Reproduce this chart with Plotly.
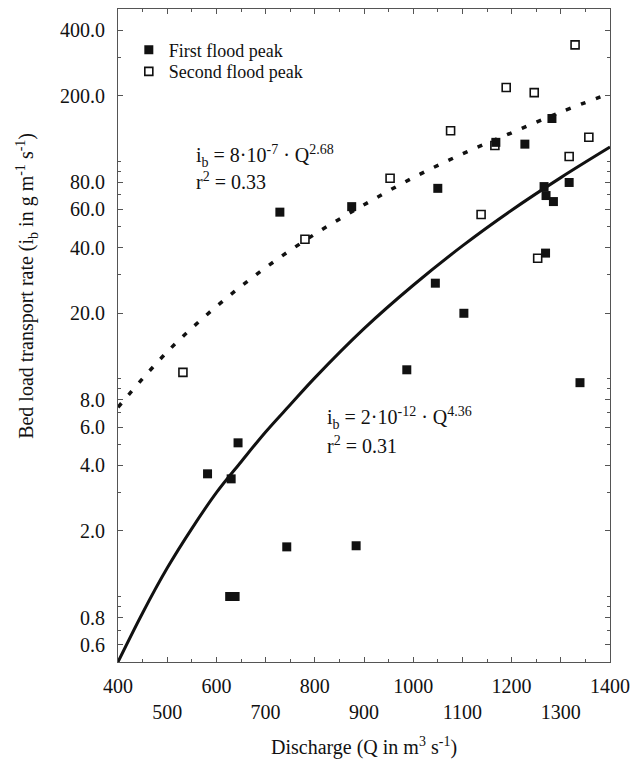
import plotly.graph_objects as go

# ---- data ----
first_q = [582, 630, 644, 743, 884, 627, 638, 729, 875, 987, 1045, 1103, 1269, 1339,
           1050, 1168, 1227, 1282, 1266, 1270, 1285, 1317]
first_ib = [3.66, 3.47, 5.08, 1.69, 1.71, 1.0, 1.0, 58.3, 61.8, 11.0, 27.5, 20.0, 37.8, 9.6,
            75.0, 122.0, 119.7, 157.0, 76.4, 69.5, 65.2, 79.8]

second_q = [532, 780, 953, 1076, 1166, 1189, 1246, 1329, 1357, 1317, 1138, 1253]
second_ib = [10.7, 43.8, 83.5, 138.0, 118.0, 218.0, 206.5, 342.0, 128.8, 105.0, 56.9, 35.8]

# regression curves, points
fit1_q = [400, 450, 500, 550, 600, 650, 700, 750, 800, 900, 1000, 1100, 1200, 1300, 1400]
fit1_ib = [0.5, 0.84, 1.35, 2.05, 3.0, 4.15, 5.7, 7.6, 10.1, 17.0, 26.9, 40.8, 59.5, 84.0, 116.0]

fit2_q = [400, 500, 600, 700, 800, 900, 1000, 1100, 1200, 1300, 1400]
fit2_ib = [7.4, 13.3, 21.5, 32.4, 46.2, 63.0, 84.0, 108.0, 135.0, 168.0, 205.0]

x_ticks = [400, 500, 600, 700, 800, 900, 1000, 1100, 1200, 1300, 1400]
x_ticktext = ["400", "<br>500", "600", "<br>700", "800", "<br>900", "1000", "<br>1100",
              "1200", "<br>1300", "1400"]
x_minor = [450, 550, 650, 750, 850, 950, 1050, 1150, 1250, 1350]

y_ticks = [0.6, 0.8, 2, 4, 6, 8, 20, 40, 60, 80, 200, 400]
y_ticktext = ["0.6", "0.8", "2.0", "4.0", "6.0", "8.0", "20.0", "40.0", "60.0", "80.0",
              "200.0", "400.0"]
y_minor = [0.5, 0.7, 0.9, 1, 3, 5, 7, 9, 10, 30, 50, 70, 90, 100, 300, 500]

FONT = "Liberation Serif, Times New Roman, serif"

fig = go.Figure()
fig.add_trace(go.Scatter(x=fit2_q, y=fit2_ib, mode="lines", line_shape="spline",
                         line=dict(color="#111", width=3.5, dash="5px,11px"),
                         showlegend=False, hoverinfo="skip"))
fig.add_trace(go.Scatter(x=fit1_q, y=fit1_ib, mode="lines", line_shape="spline",
                         line=dict(color="#111", width=3),
                         showlegend=False, hoverinfo="skip"))
fig.add_trace(go.Scatter(x=second_q, y=second_ib, mode="markers", name="Second flood peak",
                         marker=dict(symbol="square", size=8, color="white",
                                     line=dict(color="#111", width=1.6)),
                         legend="legend2"))
fig.add_trace(go.Scatter(x=first_q, y=first_ib, mode="markers", name="First flood peak",
                         marker=dict(symbol="square", size=9, color="#111",
                                     line=dict(color="#111", width=0)),
                         legend="legend"))

axis_common = dict(showline=True, linecolor="#555", linewidth=1, mirror="allticks",
                   ticks="inside", ticklen=5, tickcolor="#555", tickwidth=1,
                   showgrid=False, zeroline=False, automargin=False,
                   tickfont=dict(family=FONT, size=20, color="#111"))

fig.update_xaxes(range=[400, 1400], tickmode="array", tickvals=x_ticks, ticktext=x_ticktext,
                 minor=dict(tickmode="array", tickvals=x_minor, ticks="inside", ticklen=3,
                            tickcolor="#555"),
                 ticklabelstandoff=6, **axis_common)
fig.update_yaxes(type="log", range=[-0.30103, 2.69897], tickmode="array", tickvals=y_ticks,
                 ticktext=y_ticktext,
                 minor=dict(tickmode="array", tickvals=y_minor, ticks="inside", ticklen=3,
                            tickcolor="#555"),
                 ticklabelstandoff=8, **axis_common)

legend_style = dict(font=dict(family=FONT, size=18, color="#111"), bgcolor="rgba(0,0,0,0)",
                    xanchor="left", yanchor="middle", itemwidth=30)
ann_font = dict(family=FONT, size=20, color="#111")
fig.update_layout(
    width=633, height=761,
    margin=dict(l=118, r=23, t=9, b=99),
    paper_bgcolor="white", plot_bgcolor="white",
    font=dict(family=FONT, size=20, color="#111"),
    legend=dict(x=0.022, y=0.937, **legend_style),
    legend2=dict(x=0.022, y=0.904, **legend_style),
    annotations=[
        dict(text="i<sub>b</sub> = 8·10<sup>-7</sup> · Q<sup>2.68</sup>", xref="paper", yref="paper",
             x=0.155, y=0.775, xanchor="left", yanchor="middle", showarrow=False, font=ann_font),
        dict(text="r<sup>2</sup> = 0.33", xref="paper", yref="paper",
             x=0.155, y=0.736, xanchor="left", yanchor="middle", showarrow=False, font=ann_font),
        dict(text="i<sub>b</sub> = 2·10<sup>-12</sup> · Q<sup>4.36</sup>", xref="paper", yref="paper",
             x=0.421, y=0.373, xanchor="left", yanchor="middle", showarrow=False, font=ann_font),
        dict(text="r<sup>2</sup> = 0.31", xref="paper", yref="paper",
             x=0.421, y=0.333, xanchor="left", yanchor="middle", showarrow=False, font=ann_font),
        dict(text="Discharge (Q in m<sup>3</sup> s<sup>-1</sup>)", xref="paper", yref="paper",
             x=0.5, y=-0.130, xanchor="center", yanchor="middle", showarrow=False, font=ann_font),
        dict(text="Bed load transport rate (i<sub>b</sub> in g m<sup>-1</sup> s<sup>-1</sup>)",
             xref="paper", yref="paper", x=-0.185, y=0.576, xanchor="center", yanchor="middle",
             textangle=-90, showarrow=False, font=ann_font),
    ],
)

fig.write_html("out.html", config={"displayModeBar": False},
               post_script="document.body.style.margin='0';document.body.style.padding='0';")
